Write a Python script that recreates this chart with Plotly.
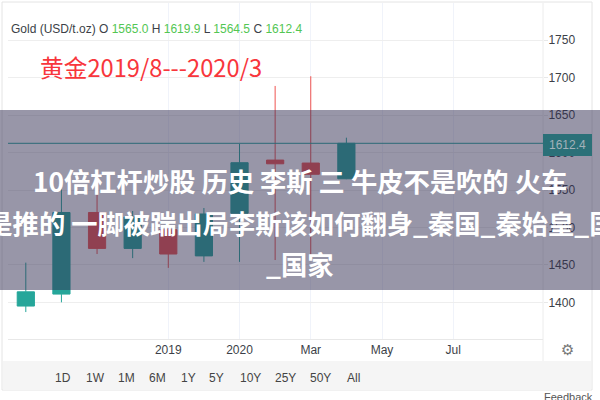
import plotly.graph_objects as go

periods = [0, 1, 2, 3, 4, 5, 6, 7, 8, 9]
open_ = [1395, 1411, 1520, 1472, 1497, 1462, 1519, 1590, 1586, 1565.0]
high = [1453, 1551, 1546, 1522, 1506, 1526, 1611.5, 1689, 1702, 1619.9]
low = [1387, 1400, 1464.5, 1459, 1446, 1454, 1454, 1456.5, 1456.5, 1564.5]
close = [1414, 1520, 1472, 1514, 1464.5, 1518, 1586.5, 1585, 1571, 1612.4]
x_tick_pos = [4, 6, 8, 10, 12]
x_tick_text = ["2019", "2020", "Mar", "May", "Jul"]
y_ticks = [1400, 1450, 1500, 1550, 1600, 1650, 1700, 1750]
last_price = 1612.4
range_buttons = ["1D", "1W", "1M", "6M", "1Y", "5Y", "10Y", "25Y", "50Y", "All"]
button_px = [63, 95, 126, 157, 188, 216, 250, 285, 320, 353]
headline_lines = [
    "10倍杠杆炒股 历史 李斯 三 牛皮不是吹的 火车",
    "不是推的 一脚被踹出局李斯该如何翻身_秦国_秦始皇_国",
    "_国家",
]
headline_px = [180.5, 222.5, 263]
headline_x = [300, 288, 300]

UP = "#26a69a"
DOWN = "#ef5350"
GRID = "#f0f3fa"
TXT = "#3c3f48"
GREEN = "#53c653"
LATIN = "Liberation Sans, Arial, sans-serif"
CJK = "Noto Sans CJK SC, sans-serif"


def px(v):
    return v / 600


def py(v):
    return 1 - v / 400


fig = go.Figure(
    go.Candlestick(
        x=periods, open=open_, high=high, low=low, close=close,
        increasing=dict(line=dict(color=UP, width=1), fillcolor=UP),
        decreasing=dict(line=dict(color=DOWN, width=1), fillcolor=DOWN),
        whiskerwidth=0, showlegend=False, hoverinfo="skip",
    )
)


def paper_rect(x0, y0, x1, y1, fill=None, line=None, layer="below"):
    fig.add_shape(type="rect", xref="paper", yref="paper", x0=px(x0), x1=px(x1),
                  y0=py(y0), y1=py(y1), layer=layer,
                  fillcolor=fill or "rgba(0,0,0,0)",
                  line=dict(color=line or "rgba(0,0,0,0)", width=1))


paper_rect(2, 2, 592, 390, fill="white", line="#e4e4e4")
paper_rect(3, 361, 591, 390, fill="#f5f5f5")
fig.add_shape(type="line", xref="paper", yref="paper", x0=px(543), x1=px(543), y0=py(3), y1=py(361),
              line=dict(color="#ececec", width=1), layer="below")

fig.add_shape(type="line", xref="paper", yref="y", x0=px(8), x1=px(543), y0=last_price, y1=last_price,
              line=dict(color=UP, width=1), layer="above")
paper_rect(-1, 110, 601, 290, fill="rgba(49,45,81,0.5)", layer="above")

dark = f'<span style="color:{TXT}">'
green = f'<span style="color:{GREEN}">'
header = (f"{dark}Gold (USD/t.oz) O </span>{green}{open_[-1]:.1f}</span>{dark} H </span>"
          f"{green}{high[-1]}</span>{dark} L </span>{green}{low[-1]}</span>{dark} C </span>"
          f"{green}{close[-1]}</span>")


def note(text, x, y, size, color, family=LATIN, anchor="left"):
    fig.add_annotation(text=text, xref="paper", yref="paper", x=px(x), y=py(y), showarrow=False,
                       xanchor=anchor, yanchor="middle", font=dict(family=family, size=size, color=color),
                       borderpad=0, borderwidth=0)


note(header, 11, 29, 12, TXT)
note("黄金2019/8---2020/3", 40, 66.5, 23.7, "#f8363c", family=CJK)
for line, x, y in zip(headline_lines, headline_x, headline_px):
    note(f"<b>{line}</b>", x, y, 26.3, "white", family=CJK, anchor="center")
for label, x in zip(range_buttons, button_px):
    note(label, x, 378, 12, "#444444", anchor="center")
note("\u2699", 567, 350, 15, "#777777", family="DejaVu Sans", anchor="center")
note("Feedback", 593, 397, 11, "#555555", anchor="right")

fig.add_annotation(text=f"{last_price}", xref="paper", yref="y", x=px(543.3), y=last_price, yshift=-2,
                   xanchor="left", yanchor="middle", showarrow=False, width=49, height=21.5,
                   align="center", valign="middle", bgcolor="#2b7078", borderpad=0, borderwidth=0,
                   font=dict(family=LATIN, size=12, color="#a3b2ba"))

fig.update_layout(
    width=600, height=400, margin=dict(l=0, r=0, t=0, b=0),
    paper_bgcolor="white", plot_bgcolor="white", boxgap=0.31, showlegend=False,
    xaxis=dict(domain=[px(8), px(543)], range=[-0.5, 14.52], rangeslider=dict(visible=False),
               tickmode="array", tickvals=x_tick_pos, ticktext=x_tick_text,
               showgrid=True, gridcolor=GRID, gridwidth=1, zeroline=False,
               showline=True, linecolor="#e8e8e8", ticks="",
               tickfont=dict(family=LATIN, size=12, color=TXT)),
    yaxis=dict(domain=[py(339), py(3)], range=[1351, 1799.8], side="right",
               tickmode="array", tickvals=y_ticks,
               showgrid=True, gridcolor="#eeeeee", gridwidth=1, zeroline=False,
               showline=False, ticks="outside", ticklen=4, tickcolor="#e8e8e8",
               ticklabelstandoff=-2,
               tickfont=dict(family=LATIN, size=12, color=TXT)),
)

fig.write_html("out.html", config=dict(displayModeBar=False),
               post_script="document.body.style.margin='0';")
